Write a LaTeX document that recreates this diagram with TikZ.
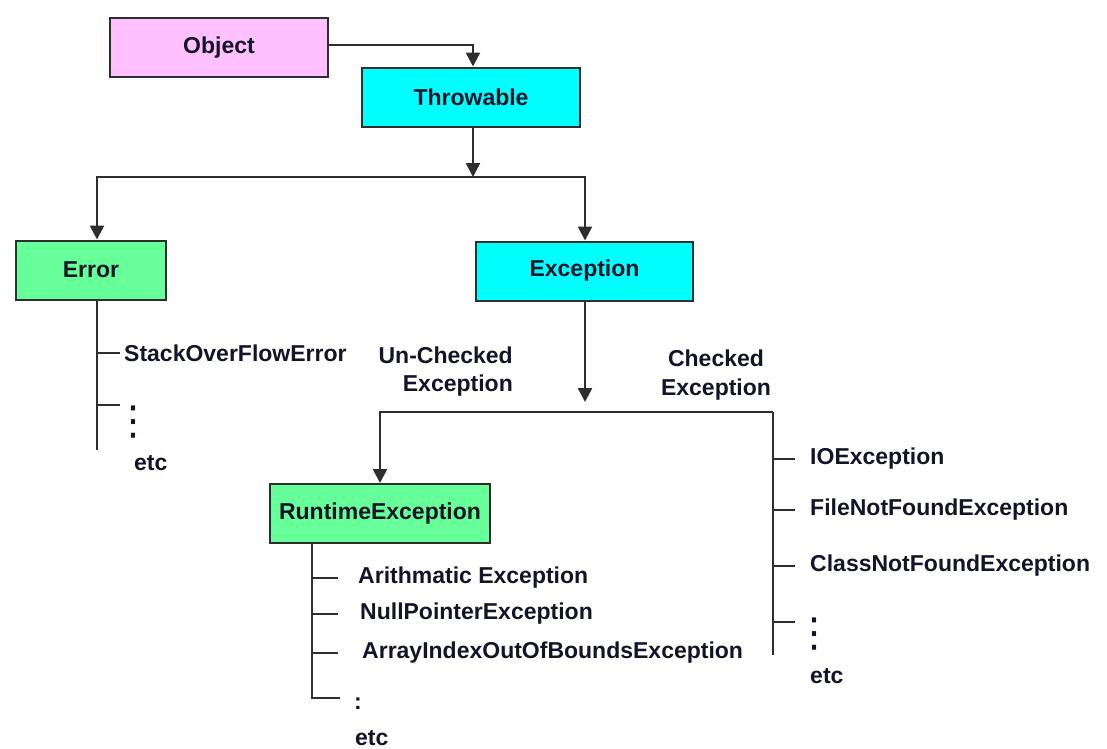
\documentclass[tikz,border=0pt]{standalone}
\usepackage{fontspec}
\setmainfont{Liberation Sans}
\newfontfamily\symfont{DejaVu Sans}
\usetikzlibrary{arrows.meta}
\definecolor{ink}{HTML}{141428}
\definecolor{edge}{HTML}{2E2E2E}
\definecolor{objpink}{HTML}{FFC0FF}
\definecolor{thrcyan}{HTML}{00FFFF}
\definecolor{errgreen}{HTML}{66FF99}

\begin{document}
\begin{tikzpicture}[x=1pt,y=-1pt,
  cls/.style={draw=edge,line width=2pt,minimum width=218pt,minimum height=59pt,
    inner sep=0pt,text=ink,font=\fontsize{23}{26}\selectfont\bfseries},
  lbl/.style={anchor=west,inner sep=0pt,text=ink,font=\fontsize{23}{26}\selectfont\bfseries},
  dots/.style={inner sep=0pt,text=ink,font=\fontsize{40}{40}\selectfont\symfont},
  ln/.style={draw=edge,line width=2.5pt},
  arr/.style={ln,-{Triangle[width=14pt,length=14pt]}}]
            \useasboundingbox (0,0) rectangle (1107,748);
            % class boxes
            \node[cls,fill=objpink] (obj) at (219,47.5) {Object};
            \node[cls,fill=thrcyan] (thr) at (471,97) {Throwable};
            \node[cls,fill=errgreen,minimum width=150pt] (err) at (91,270) {Error};
            \node[cls,fill=thrcyan,minimum width=217pt] (exc) at (584.5,271) {Exception};
            \node[cls,fill=errgreen,minimum width=220pt] (rte) at (380,513.5) {RuntimeException};
            % junctions
            \coordinate (thrj) at (473,177);
            \coordinate (excj) at (585,402);
            \coordinate (unchk) at (380,412);
            \coordinate (chk) at (773,412);
            \coordinate (chkend) at (773,655);
            \coordinate (errend) at (97,450);
            \coordinate (rtecorner) at (312,698);
            % labels
            \node[lbl] (soe) at (124,353) {StackOverFlowError};
            \node[dots] (errdots) at (133,422) {⋮};
            \node[lbl] (erretc) at (134,463) {etc};
            \node[text=ink,inner sep=0pt,align=right,font=\fontsize{23}{28}\selectfont\bfseries,anchor=east]
              (unchklbl) at (513,372) {Un-Checked\\Exception};
            \node[text=ink,inner sep=0pt,align=center,font=\fontsize{23}{29}\selectfont\bfseries]
              (chklbl) at (716,375) {Checked\\Exception};
            \node[lbl] (ioe) at (810,459) {IOException};
            \node[lbl] (fnfe) at (810,510) {FileNotFoundException};
            \node[lbl] (cnfe) at (810,566) {ClassNotFoundException};
            \node[dots] (chkdots) at (814,634) {⋮};
            \node[lbl] (chketc) at (810,676) {etc};
            \node[lbl] (ae) at (358,578) {Arithmatic Exception};
            \node[lbl] (npe) at (360,614) {NullPointerException};
            \node[lbl] (aioobe) at (362,653) {ArrayIndexOutOfBoundsException};
            \node[lbl,anchor=center] (rtedots) at (358,704) {:};
            \node[lbl] (rteetc) at (355,738) {etc};
            % connectors
            \draw[arr] (obj.east |- 0,45) -| (thr.north -| thrj);
            \draw[arr] (thr.south -| thrj) -- (thrj);
            \draw[arr] (thrj) -| (err.north -| errend);
            \draw[arr] (thrj) -| (exc.north -| excj);
            \draw[arr] (exc.south -| excj) -- (excj);
            \draw[arr] (chk) -- (unchk) -- (rte.north);
            \draw[ln] (chk) -- (chkend);
            \draw[ln] (err.south -| errend) -- (errend);
            \draw[ln] (rte.south -| rtecorner) -- (rtecorner) -- ++(28,0);
            \draw[ln]
            (errend |- soe) -- ++(23,0)
            (errend |- 0,405) -- ++(23,0)
            (chk |- ioe) -- ++(22,0)
            (chk |- fnfe) -- ++(22,0)
            (chk |- cnfe) -- ++(22,0)
            (chk |- 0,622) -- ++(22,0)
            (rtecorner |- ae) -- ++(26,0)
            (rtecorner |- npe) -- ++(26,0)
            (rtecorner |- aioobe) -- ++(26,0)
            ;
\end{tikzpicture}
\end{document}
